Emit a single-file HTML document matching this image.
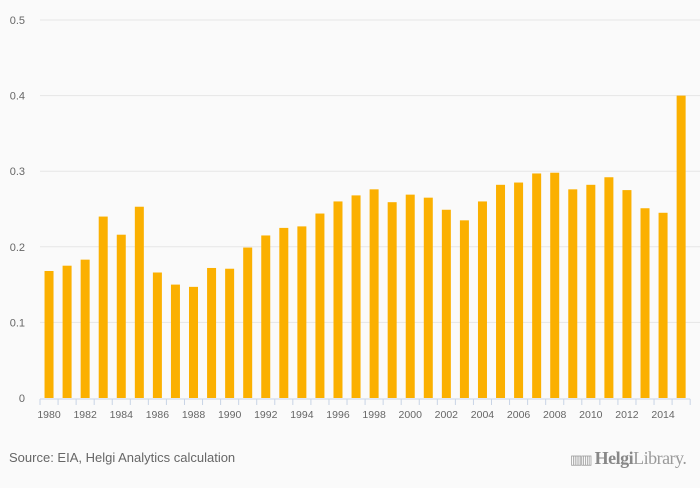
<!DOCTYPE html>
<html><head><meta charset="utf-8"><style>
body{margin:0;background:#fafafa;}
#wrap{position:relative;width:700px;height:483px;background:#fafafa;font-family:"Liberation Sans",sans-serif;}
</style></head><body>
<div id="wrap">
<svg id="chart" width="700" height="483"></svg>
<div style="position:absolute;left:9px;top:450px;font-size:13px;color:#666;">Source: EIA, Helgi Analytics calculation</div>
<div style="position:absolute;left:570px;top:448px;font-family:'Liberation Serif',serif;font-size:18px;color:#999;letter-spacing:-0.5px;"><span style="font-size:13px;letter-spacing:-2px;">▥▥</span> <b style="color:#888">Helgi</b>Library.</div>
</div>
<script>
const years = [1980,1981,1982,1983,1984,1985,1986,1987,1988,1989,1990,1991,1992,1993,1994,1995,1996,1997,1998,1999,2000,2001,2002,2003,2004,2005,2006,2007,2008,2009,2010,2011,2012,2013,2014,2015];
const values = [0.168,0.175,0.183,0.240,0.216,0.253,0.166,0.150,0.147,0.172,0.171,0.199,0.215,0.225,0.227,0.244,0.260,0.268,0.276,0.259,0.269,0.265,0.249,0.235,0.260,0.282,0.285,0.297,0.298,0.276,0.282,0.292,0.275,0.251,0.245,0.400];
const yTicks = [0,0.1,0.2,0.3,0.4,0.5];
const yTickLabels = ["0","0.1","0.2","0.3","0.4","0.5"];
const NS="http://www.w3.org/2000/svg";
const svg=document.getElementById('chart');
const x0=40, step=18.06, y0=398, yTop=20, vMax=0.5;
const y=v=>y0-(v/vMax)*(y0-yTop);
const xc=i=>x0+step*(i+0.5);
function mk(t,a){const e=document.createElementNS(NS,t);for(const k in a)e.setAttribute(k,a[k]);svg.appendChild(e);return e;}
yTicks.forEach((t,i)=>{
  if(t>0){const g=mk('line',{x1:x0,x2:700,y1:y(t),y2:y(t),stroke:'#e6e6e6','stroke-width':1});
  
  }
  const l=mk('text',{x:25,y:y(t)+4,'text-anchor':'end','font-size':11,fill:'#666','font-family':'Liberation Sans, sans-serif'});
  l.textContent=yTickLabels[i];
  
  
});
values.forEach((v,i)=>{
  const r=mk('rect',{x:xc(i)-4.5,y:y(v),width:9,height:y0-y(v),fill:'#fbb000'});
  
  
});
const ax=mk('line',{x1:x0,x2:x0+step*years.length,y1:y0+1,y2:y0+1,stroke:'#c8d4e6','stroke-width':1});


for(let i=0;i<=years.length;i++){
  const tk=mk('line',{x1:x0+step*i,x2:x0+step*i,y1:y0+1,y2:y0+7,stroke:'#c8d4e6'});
  
  
}
years.forEach((yr,i)=>{
  if(yr%2) return;
  const l=mk('text',{x:xc(i),y:418,'text-anchor':'middle','font-size':10.5,fill:'#666','font-family':'Liberation Sans, sans-serif'});
  l.textContent=yr;
  
  
});
</script>
</body></html>
